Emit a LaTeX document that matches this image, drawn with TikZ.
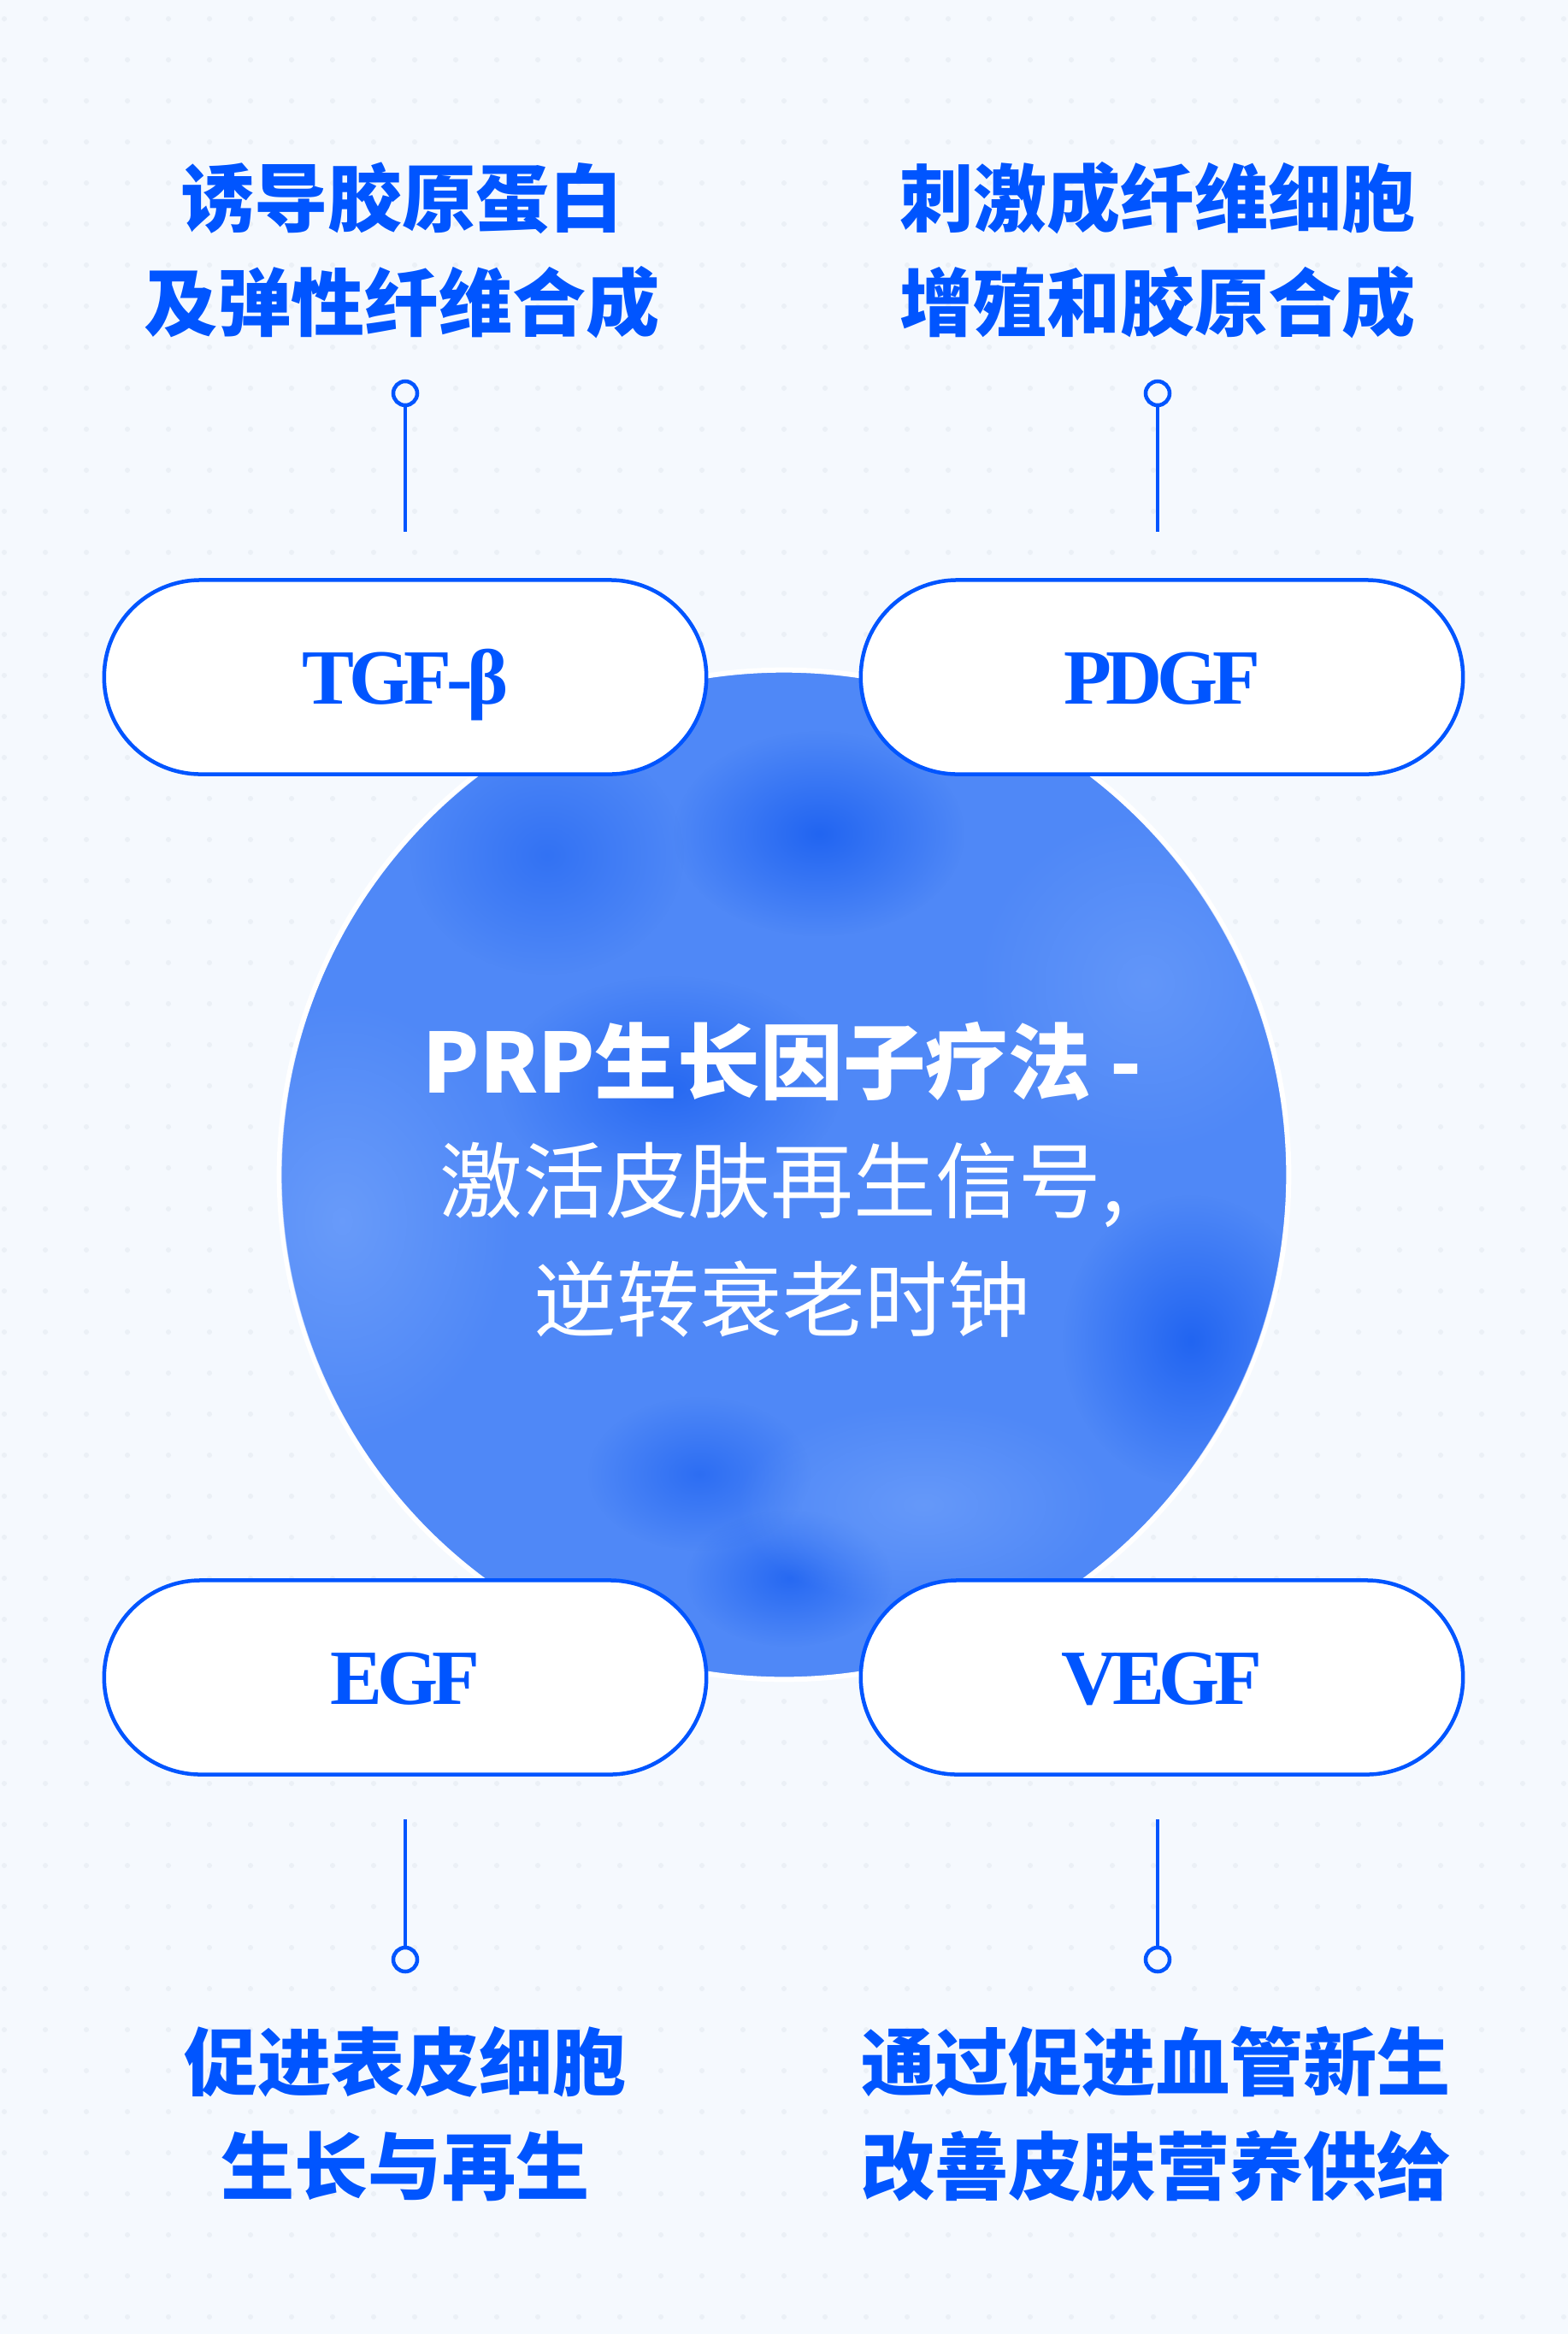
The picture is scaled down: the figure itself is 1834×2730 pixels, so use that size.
\documentclass[tikz,border=0pt]{standalone}
\usepackage{fontspec}
\setmainfont{Liberation Serif}
\newfontfamily\cjk{Noto Sans CJK SC}
\newfontfamily\pillfont[LetterSpace=-7]{Liberation Serif}
\usetikzlibrary{positioning,fadings}
\definecolor{brand}{HTML}{0055FF}
\definecolor{paper}{HTML}{F5F9FE}
\definecolor{dotgrey}{HTML}{EBF0F6}
\definecolor{orbbase}{HTML}{4F88F7}
\definecolor{orbdark}{HTML}{165CF0}
\definecolor{orblight}{HTML}{6FA0FB}
\tikzfading[name=blobfade,inner color=transparent!0,outer color=transparent!100]
\tikzset{
  pill/.style={rectangle,rounded corners=1.13cm,draw=brand,line width=0.045cm,fill=white,text=brand,minimum width=7.04cm,minimum height=2.27cm,text height=0.62cm,text depth=0pt,font=\pillfont\bfseries\fontsize{26}{30}\selectfont},
  caption/.style={align=center,text=brand,font=\cjk\bfseries\fontsize{24.5}{34.7}\selectfont},
  claim/.style={align=center,text=white,font=\cjk\fontsize{27.5}{39.5}\selectfont},
  orb/.style={circle,fill=orbbase,draw=white,line width=0.06cm,minimum size=11.8cm,inner sep=0pt},
  knob/.style={circle,draw=brand,line width=0.045cm,fill=paper,minimum size=0.28cm,inner sep=0pt},
  link/.style={draw=brand,line width=0.045cm},
  blob/.style={path fading=blobfade}
}
\begin{document}
\begin{tikzpicture}[x=0.01cm,y=-0.01cm]
  \useasboundingbox[fill=paper] (0,0) rectangle (1834,2730);
  % dotted backdrop
  \foreach \i in {0,...,38}
    \foreach \j in {0,...,56}
      \fill[dotgrey] (5+48*\i,22+48*\j) circle (3);

  % central orb
  \node[orb] (orb) at (917,1374) {};
  \begin{scope}
    \clip (917,1374) circle (588);
    \fill[orbdark,blob,opacity=0.8] (958,975) ellipse (170 and 120);
    \fill[orbdark,blob,opacity=0.7] (784,1272) ellipse (200 and 130);
    \fill[orbdark,blob,opacity=0.8] (1393,1568) ellipse (150 and 170);
    \fill[orbdark,blob,opacity=0.6] (818,1724) ellipse (130 and 90);
    \fill[orbdark,blob,opacity=0.7] (923,1846) ellipse (120 and 80);
    \fill[orbdark,blob,opacity=0.5] (640,1000) ellipse (160 and 140);
    \fill[orblight,blob,opacity=0.8] (400,1428) ellipse (200 and 260);
    \fill[orblight,blob,opacity=0.7] (1080,1760) ellipse (220 and 120);
    \fill[orblight,blob,opacity=0.6] (1340,1150) ellipse (200 and 200);
  \end{scope}
  \node[claim] (core) at (915,1380) {{\bfseries PRP生长因子疗法 -}\\激活皮肤再生信号,\\逆转衰老时钟};

  % factor pills
  \node[pill] (tgf) at (474,792) {TGF-β};
  \node[pill] (pdgf) at (1359,792) {PDGF};
  \node[pill] (egf) at (474,1962) {EGF};
  \node[pill] (vegf) at (1359,1962) {VEGF};

  % upper captions
  \node[caption] (capTL) at (470,293) {诱导胶原蛋白\\及弹性纤维合成};
  \node[caption] (capTR) at (1354,293) {刺激成纤维细胞\\增殖和胶原合成};
  \node[knob] (kTL) at (474,460) {};
  \node[knob] (kTR) at (1354,460) {};
  \coordinate (eTL) at (474,622);
  \coordinate (eTR) at (1354,622);
  \draw[link] (kTL) -- (eTL);
  \draw[link] (kTR) -- (eTR);

  % lower captions
  \node[knob] (kBL) at (474,2292) {};
  \node[knob] (kBR) at (1354,2292) {};
  \coordinate (eBL) at (474,2128);
  \coordinate (eBR) at (1354,2128);
  \draw[link] (eBL) -- (kBL);
  \draw[link] (eBR) -- (kBR);
  \node[caption] (capBL) at (474,2473) {促进表皮细胞\\生长与再生};
  \node[caption] (capBR) at (1352,2473) {通过促进血管新生\\改善皮肤营养供给};
\end{tikzpicture}
\end{document}
